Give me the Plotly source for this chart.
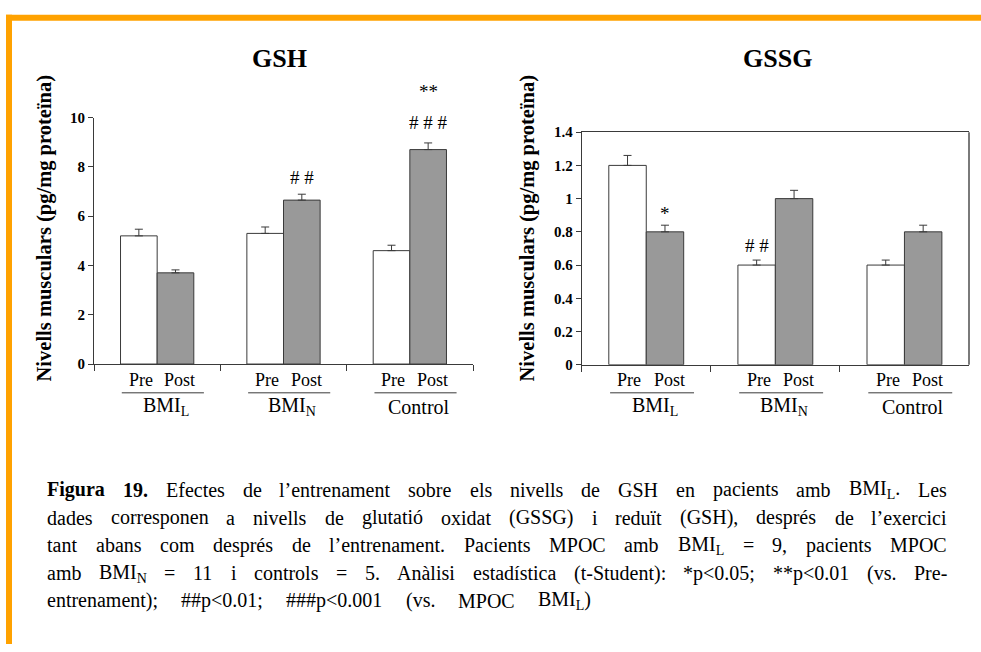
import re
import plotly.graph_objects as go

W, H = 981, 652
SERIF = "Times New Roman"

# ---------------- data ----------------
groups = ["BMI_L", "BMI_N", "Control"]
group_labels = ["BMI<sub>L</sub>", "BMI<sub>N</sub>", "Control"]
phases = ["Pre", "Post"]

gsh_pre = [5.2, 5.3, 4.6]
gsh_pre_err = [0.27, 0.26, 0.22]
gsh_post = [3.7, 6.65, 8.7]
gsh_post_err = [0.12, 0.24, 0.27]

gssg_pre = [1.2, 0.6, 0.6]
gssg_pre_err = [0.06, 0.03, 0.03]
gssg_post = [0.8, 1.0, 0.8]
gssg_post_err = [0.04, 0.05, 0.04]

gsh_ticks = [0, 2, 4, 6, 8, 10]
gsh_ticktext = ["0", "2", "4", "6", "8", "10"]
gssg_ticks = [0, 0.2, 0.4, 0.6, 0.8, 1.0, 1.2, 1.4]
gssg_ticktext = ["0", "0.2", "0.4", "0.6", "0.8", "1", "1.2", "1.4"]

# significance marks: (group, phase, text, level in data units)
gsh_marks = [("BMI_N", "Post", "# #", 7.55),
             ("Control", "Post", "# # #", 9.8),
             ("Control", "Post", "**", 11.05)]
gssg_marks = [("BMI_L", "Post", "*", 0.91),
              ("BMI_N", "Pre", "# #", 0.72)]

titles = ["GSH", "GSSG"]
y_title = "Nivells musculars (pg/mg proteïna)"

caption_lines = [
    "<b>Figura</b> <b>19.</b> Efectes de l’entrenament sobre els nivells de GSH en pacients amb BMI<sub>L</sub>. Les",
    "dades corresponen a nivells de glutatió oxidat (GSSG) i reduït (GSH), després de l’exercici",
    "tant abans com després de l’entrenament. Pacients MPOC amb BMI<sub>L</sub> = 9, pacients MPOC",
    "amb BMI<sub>N</sub> = 11 i controls = 5. Anàlisi estadística (t-Student): *p&lt;0.05; **p&lt;0.01 (vs. Pre-",
    "entrenament); ##p&lt;0.01; ###p&lt;0.001 (vs. MPOC BMI<sub>L</sub>)",
]

# ---------------- layout geometry ----------------
LEFT_X = [94 / W, 473 / W]
RIGHT_X = [581.7 / W, 969 / W]
LEFT_Y = [1 - 365 / H, 1 - 112.3 / H]
RIGHT_Y = [1 - 365.7 / H, 1 - 127.3 / H]
GSH_MAX = 10
GSSG_MAX = 1.4
BARGAP = 0.42
HALF = (1 - BARGAP) / 4.0  # centre offset of each bar in a pair
OUTLINE = "#3a3a3a"
POST_FILL = "#999999"

fig = go.Figure()


def add_pair(pre, pre_err, post, post_err, xa, ya):
    for name, vals, errs, fill in (("Pre", pre, pre_err, "white"),
                                   ("Post", post, post_err, POST_FILL)):
        fig.add_trace(go.Bar(
            x=groups, y=vals, name=name, xaxis=xa, yaxis=ya,
            offsetgroup=name, showlegend=False, hoverinfo="skip",
            marker=dict(color=fill, line=dict(color=OUTLINE, width=1)),
            error_y=dict(type="data", symmetric=False, array=errs,
                         arrayminus=[0] * len(errs), color=OUTLINE,
                         thickness=1, width=4),
        ))


add_pair(gsh_pre, gsh_pre_err, gsh_post, gsh_post_err, "x", "y")
add_pair(gssg_pre, gssg_pre_err, gssg_post, gssg_post_err, "x2", "y2")

xcommon = dict(type="category", categoryorder="array", categoryarray=groups,
               range=[-0.5, 2.5], showline=True, linecolor=OUTLINE, linewidth=1,
               ticks="outside", tickson="boundaries", ticklen=6, tickcolor=OUTLINE,
               showticklabels=False, showgrid=False, zeroline=False, fixedrange=True)
ycommon = dict(showline=True, linecolor=OUTLINE, linewidth=1, ticks="outside",
               ticklen=5, tickcolor=OUTLINE, showgrid=False, zeroline=False,
               tickfont=dict(family=SERIF, size=15, color="black"),
               fixedrange=True)

fig.update_layout(
    width=W, height=H, margin=dict(l=0, r=0, t=0, b=0),
    paper_bgcolor="white", plot_bgcolor="white",
    barmode="group", bargap=BARGAP, bargroupgap=0,
    font=dict(family=SERIF, color="black"),
    xaxis=dict(domain=LEFT_X, anchor="y", **xcommon),
    yaxis=dict(domain=LEFT_Y, anchor="x", range=[0, GSH_MAX],
               tickvals=gsh_ticks, ticktext=["<b>%s</b>" % t for t in gsh_ticktext],
               **ycommon),
    xaxis2=dict(domain=RIGHT_X, anchor="y2", mirror=True, **xcommon),
    yaxis2=dict(domain=RIGHT_Y, anchor="x2", range=[0, GSSG_MAX],
                tickvals=gssg_ticks, ticktext=["<b>%s</b>" % t for t in gssg_ticktext],
                **ycommon),
)

ann = []
shapes = []


def to_paper(v, vmax, dom):
    return dom[0] + v / vmax * (dom[1] - dom[0])


def phase_off(phase):
    return -HALF if phase == "Pre" else HALF


for xa, ydom, vmax, marks, title, tx, ytx in (
        ("x", LEFT_Y, GSH_MAX, gsh_marks, titles[0], 279, 44),
        ("x2", RIGHT_Y, GSSG_MAX, gssg_marks, titles[1], 777, 527)):
    ann.append(dict(xref="paper", yref="paper", x=tx / W,
                    y=1 - 52 / H, text="<b>%s</b>" % title, showarrow=False,
                    font=dict(family=SERIF, size=26, color="black"),
                    xanchor="center", yanchor="middle"))
    ann.append(dict(xref="paper", yref="paper", x=ytx / W, y=1 - 226 / H,
                    text="<b>%s</b>" % y_title, textangle=-90, showarrow=False,
                    font=dict(family=SERIF, size=20.5, color="black"),
                    xanchor="center", yanchor="middle"))
    for i, g in enumerate(groups):
        for ph, dx in (("Pre", -0.13), ("Post", 0.18)):
            ann.append(dict(xref=xa, yref="paper", x=i + dx, y=1 - 381 / H,
                            text=ph, showarrow=False,
                            font=dict(family=SERIF, size=18, color="black"),
                            xanchor="center", yanchor="middle"))
        ann.append(dict(xref=xa, yref="paper", x=i + 0.07, y=1 - 409 / H,
                        text=group_labels[i], showarrow=False,
                        font=dict(family=SERIF, size=20, color="black"),
                        xanchor="center", yanchor="middle"))
        shapes.append(dict(type="line", xref=xa, yref="paper",
                           x0=i - 0.28, x1=i + 0.37, y0=1 - 394.5 / H, y1=1 - 394.5 / H,
                           line=dict(color=OUTLINE, width=1)))
    for g, ph, txt, lvl in marks:
        ann.append(dict(xref=xa, yref="paper", x=groups.index(g) + phase_off(ph),
                        y=to_paper(lvl, vmax, ydom), text=txt, showarrow=False,
                        font=dict(family=SERIF, size=19, color="black"),
                        xanchor="center", yanchor="middle"))

shapes.append(dict(type="line", xref="paper", yref="paper",
                   x0=RIGHT_X[1], x1=RIGHT_X[1], y0=RIGHT_Y[0], y1=RIGHT_Y[1],
                   line=dict(color="#7a7a7a", width=2)))

ORANGE = "#FFA200"
shapes.append(dict(type="line", xref="paper", yref="paper", x0=6 / W, x1=1,
                   y0=1 - 10 / H, y1=1 - 10 / H, line=dict(color=ORANGE, width=6)))
shapes.append(dict(type="line", xref="paper", yref="paper", x0=9 / W, x1=9 / W,
                   y0=0, y1=1 - 7 / H, line=dict(color=ORANGE, width=6)))

# ---------------- justified caption ----------------
REG = {' ': 250, '#': 500, '(': 333, ')': 333, '*': 500, ',': 250, '-': 333, '.': 250,
       '/': 278, ':': 278, ';': 278, '<': 564, '=': 564, '’': 333,
       'A': 722, 'B': 667, 'C': 667, 'D': 722, 'E': 611, 'F': 556, 'G': 722, 'H': 722,
       'I': 333, 'L': 611, 'M': 889, 'N': 722, 'O': 722, 'P': 556, 'S': 556, 'T': 611,
       'a': 444, 'b': 500, 'c': 444, 'd': 500, 'e': 444, 'f': 333, 'g': 500, 'h': 500,
       'i': 278, 'j': 278, 'k': 500, 'l': 278, 'm': 778, 'n': 500, 'o': 500, 'p': 500,
       'q': 500, 'r': 333, 's': 389, 't': 278, 'u': 500, 'v': 500, 'w': 722, 'x': 500,
       'y': 500, 'z': 444, 'ó': 500, 'é': 444, 'à': 444, 'í': 278, 'ï': 278}
for d in "0123456789":
    REG[d] = 500
BOLD = dict(REG)
BOLD.update({'F': 611, 'u': 556, 'r': 444, 'a': 500, 'g': 500, 'i': 278})


def word_width(word):
    style = "r"
    total = 0.0
    for tok in re.split(r"(<b>|</b>|<sub>|</sub>)", word):
        if tok == "<b>":
            style = "b"
        elif tok == "<sub>":
            style = "s"
        elif tok in ("</b>", "</sub>"):
            style = "r"
        else:
            t = tok.replace("&lt;", "<")
            table = BOLD if style == "b" else REG
            w = sum(table.get(ch, 500) for ch in t)
            if style == "s":
                w *= 0.7
            total += w
    return total / 1000.0


CAP_FS = 20
CAP_LEFT = 46
CAP_RIGHT = [946, 946, 946, 946, 590]
CAP_Y = [494, 522.5, 551, 579.5, 607.5]
for line, right, yc in zip(caption_lines, CAP_RIGHT, CAP_Y):
    words = line.split(" ")
    widths = [word_width(w) * CAP_FS for w in words]
    gap = (right - CAP_LEFT - sum(widths)) / max(len(words) - 1, 1)
    xpos = CAP_LEFT
    for w, wd in zip(words, widths):
        ann.append(dict(xref="paper", yref="paper", x=xpos / W, y=1 - yc / H,
                        text=w, showarrow=False, xanchor="left", yanchor="middle",
                        borderpad=0,
                        font=dict(family=SERIF, size=CAP_FS, color="black")))
        xpos += wd + gap

fig.update_layout(annotations=ann, shapes=shapes)
fig.write_html("out.html")
